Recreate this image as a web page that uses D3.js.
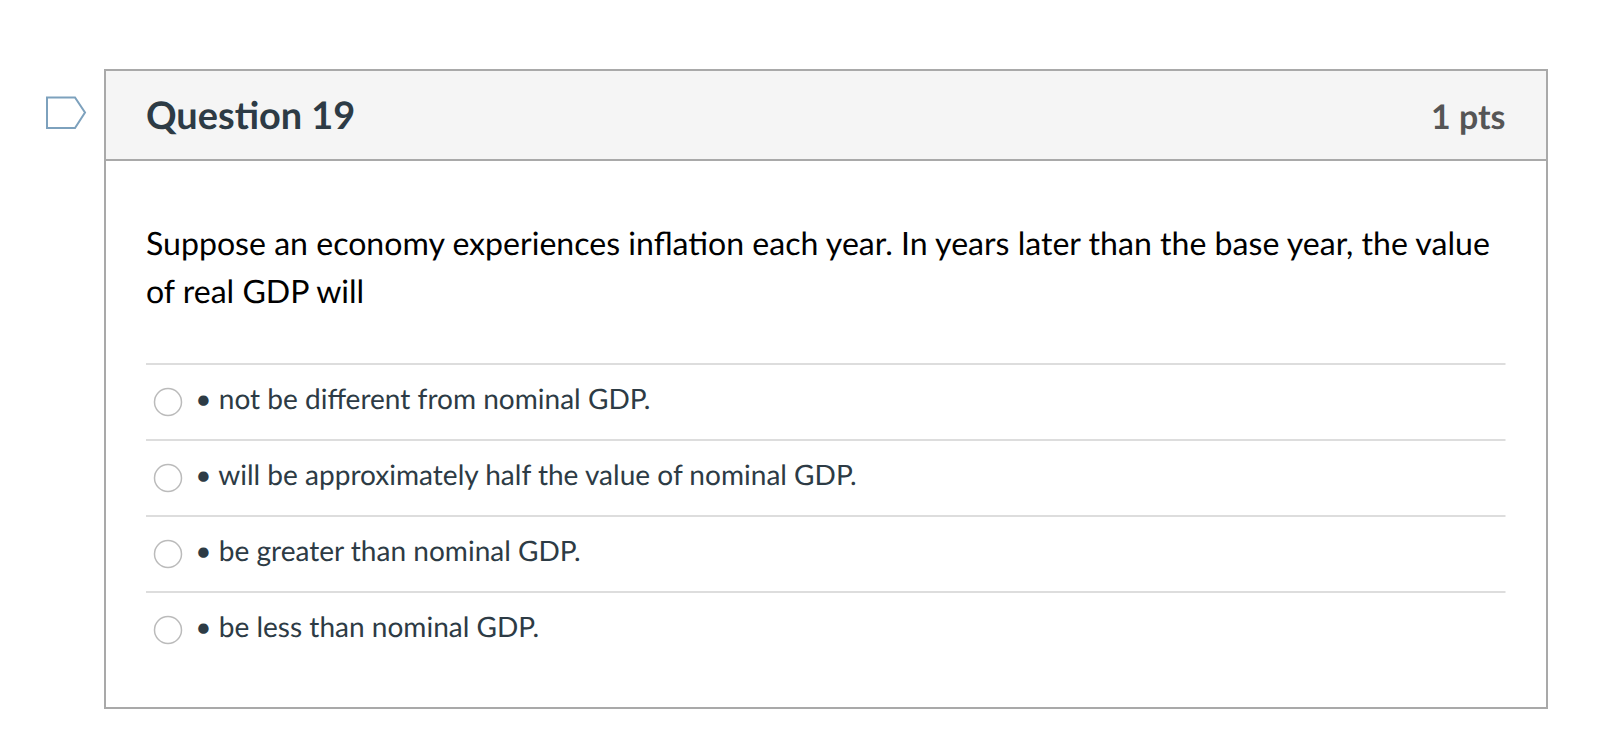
<!DOCTYPE html>
<html><head><meta charset="utf-8"><script src="https://cdn.jsdelivr.net/npm/d3@7"></script>
<style>html,body{margin:0;padding:0;background:#fff}svg{display:block}text{font-family:Lato,sans-serif;text-rendering:geometricPrecision}</style></head>
<body><svg id="c" width="1598" height="756"></svg>
<script>
const title="Question 19";
const pts="1 pts";
const questionLines=["Suppose an economy experiences inflation each year. In years later than the base year, the value","of real GDP will"];
const answers=["• not be different from nominal GDP.","• will be approximately half the value of nominal GDP.","• be greater than nominal GDP.","• be less than nominal GDP."];
const svg=d3.select("#c");
svg.append("rect").attr("x",105).attr("y",70).attr("width",1442).attr("height",638).attr("fill","#fff").attr("stroke","#a9a9a9").attr("stroke-width",2);
svg.append("rect").attr("x",106).attr("y",71).attr("width",1440).attr("height",88).attr("fill","#f5f5f5");
svg.append("line").attr("x1",105).attr("x2",1547).attr("y1",160).attr("y2",160).attr("stroke","#a9a9a9").attr("stroke-width",2);
svg.append("path").attr("d",d3.line()([[47,97.5],[75,97.5],[85,112.5],[75,128],[47,128]])+"Z").attr("fill","#fff").attr("stroke","#7da1bd").attr("stroke-width",2);
svg.append("text").attr("x",146).attr("y",129).attr("font-size",37.9).attr("font-weight",700).attr("fill","#2d3b45").text(title);
svg.append("text").attr("x",1505.5).attr("y",129).attr("text-anchor","end").attr("font-size",33.9).attr("font-weight",700).attr("fill","#555").text(pts);
svg.selectAll("text.q").data(questionLines).join("text").attr("class","q").attr("x",146).attr("y",(d,i)=>255+i*48).attr("font-size",32.1).attr("fill","#000").text(d=>d);
const y=d3.scalePoint().domain(d3.range(answers.length)).range([364,592]);
const g=svg.selectAll("g.a").data(answers).join("g").attr("class","a");
g.append("line").attr("x1",146).attr("x2",1505.5).attr("y1",(d,i)=>y(i)).attr("y2",(d,i)=>y(i)).attr("stroke","#ddd").attr("stroke-width",2);
g.append("circle").attr("cx",168).attr("cy",(d,i)=>y(i)+38).attr("r",13.5).attr("fill","#fff").attr("stroke","#bbb").attr("stroke-width",1.5);
g.append("text").attr("x",195.3).attr("y",(d,i)=>y(i)+45).attr("font-size",28.05).attr("fill","#2d3b45").text(d=>d);
</script></body></html>
